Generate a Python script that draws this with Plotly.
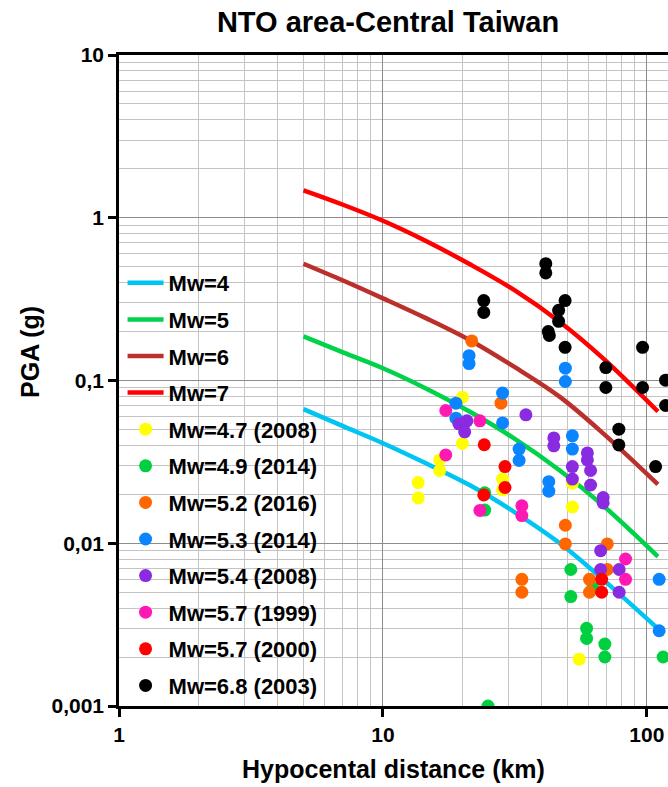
import plotly.graph_objects as go

# attenuation curves (at the same distances)
dist_curve = [5, 7.06, 10, 14.55, 21.36, 31.6, 46.8, 68.1, 110.1]
pga_mw4 = [0.0667, 0.0524, 0.0412, 0.031, 0.0227, 0.0155, 0.0100, 0.0060, 0.00299]
pga_mw5 = [0.1865, 0.1487, 0.1189, 0.0893, 0.0642, 0.0438, 0.0280, 0.0171, 0.00829]
pga_mw6 = [0.522, 0.4115, 0.3198, 0.2416, 0.1769, 0.1207, 0.0793, 0.0475, 0.023]
pga_mw7 = [1.474, 1.202, 0.958, 0.720, 0.5176, 0.3577, 0.229, 0.1373, 0.0645]

# observed events
dist_47 = [20.0, 20.0, 16.4, 16.4, 13.6, 13.6, 28.4, 28.4, 52.2, 52.2, 55.4]
pga_47 = [0.079, 0.041, 0.0325, 0.028, 0.0236, 0.019, 0.0248, 0.0213, 0.0234, 0.0167, 0.00194]
dist_49 = [51.5, 51.5, 59.1, 59.1, 69.3, 69.3, 115.2, 25.0, 62.4, 24.3, 24.3]
pga_49 = [0.0069, 0.0047, 0.0030, 0.0026, 0.0024, 0.0020, 0.0020, 0.0010, 0.0053, 0.0204, 0.016]
dist_52 = [21.7, 28.0, 49.1, 49.1, 70.8, 33.6, 33.6, 60.6, 60.6, 70.8]
pga_52 = [0.175, 0.0726, 0.0129, 0.0099, 0.0099, 0.0060, 0.0050, 0.0060, 0.0050, 0.0069]
dist_53 = [21.2, 21.2, 18.9, 18.9, 28.4, 28.4, 32.8, 32.8, 49.1, 49.1, 52.2, 52.2, 42.5, 42.5, 111.3, 111.3]
pga_53 = [0.142, 0.127, 0.0726, 0.0587, 0.0837, 0.0549, 0.0379, 0.0323, 0.119, 0.0986, 0.0457, 0.0379,
          0.0239, 0.0209, 0.0060, 0.0029]
dist_54 = [19.4, 20.8, 20.4, 34.8, 44.4, 44.4, 52.2, 52.2, 59.5, 59.5, 61.2, 61.2, 68.3, 68.3, 66.8, 66.8,
           78.5, 78.5]
pga_54 = [0.0542, 0.0565, 0.0484, 0.0615, 0.0444, 0.0397, 0.0296, 0.0248, 0.0359, 0.0325, 0.028, 0.0228,
          0.0191, 0.0177, 0.009, 0.0069, 0.0069, 0.005]
dist_57a = [17.3, 17.3, 23.3, 23.3, 33.6, 33.6, 83.0, 83.0]
pga_57a = [0.0654, 0.0349, 0.0565, 0.0159, 0.017, 0.0148, 0.008, 0.006]
dist_57b = [24.2, 29.0, 29.0, 24.1, 67.4, 67.4]
pga_57b = [0.0403, 0.0296, 0.022, 0.0198, 0.006, 0.005]
dist_68 = [41.4, 41.4, 24.1, 24.1, 49.0, 46.3, 46.3, 42.3, 42.7, 49.0, 96.3, 69.9, 69.9, 96.3, 117.7, 117.7,
           78.3, 78.3, 107.9]
pga_68 = [0.522, 0.458, 0.31, 0.262, 0.31, 0.27, 0.231, 0.2, 0.189, 0.16, 0.16, 0.12, 0.0906, 0.0906,
          0.1005, 0.0702, 0.0502, 0.0402, 0.0296]

y_ticks = [0.001, 0.01, 0.1, 1, 10]
y_labels = ["0,001", "0,01", "0,1", "1", "10"]
x_ticks = [1, 10, 100]
x_labels = ["1", "10", "100"]

FONT = "Liberation Sans, Arial, sans-serif"

curves = [
    ("Mw=4", pga_mw4, "#00c4f2"),
    ("Mw=5", pga_mw5, "#00d24a"),
    ("Mw=6", pga_mw6, "#bc302c"),
    ("Mw=7", pga_mw7, "#ff0000"),
]
events = [
    ("Mw=4.7 (2008)", dist_47, pga_47, "#ffff00"),
    ("Mw=4.9 (2014)", dist_49, pga_49, "#00d040"),
    ("Mw=5.2 (2016)", dist_52, pga_52, "#ff6600"),
    ("Mw=5.3 (2014)", dist_53, pga_53, "#0a84ff"),
    ("Mw=5.4 (2008)", dist_54, pga_54, "#8a2be2"),
    ("Mw=5.7 (1999)", dist_57a, pga_57a, "#ff19b4"),
    ("Mw=5.7 (2000)", dist_57b, pga_57b, "#ff0000"),
    ("Mw=6.8 (2003)", dist_68, pga_68, "#000000"),
]

fig = go.Figure()
for name, ys, col in curves:
    fig.add_trace(go.Scatter(x=dist_curve, y=ys, name=name, mode="lines", legendgroup=name,
                             line=dict(color=col, width=4.5, shape="spline", smoothing=1.0)))
for name, xs, ys, col in events:
    fig.add_trace(go.Scatter(x=xs, y=ys, name=name, mode="markers", legendgroup=name,
                             marker=dict(color=col, size=13, line=dict(width=0))))

fig.update_layout(
    width=668, height=787,
    margin=dict(l=119, r=0, t=55, b=81),
    paper_bgcolor="white", plot_bgcolor="white",
    font=dict(family=FONT, color="black"),
    title=dict(text="NTO area-Central Taiwan", xref="paper", x=0.49, xanchor="center",
               yref="container", y=0.972, yanchor="middle",
               font=dict(size=29, weight="bold")),
    legend=dict(x=0.0065, y=0.682, xanchor="left", yanchor="top", bgcolor="rgba(0,0,0,0)",
                font=dict(size=22, weight="bold"), tracegroupgap=5, itemwidth=36),
    showlegend=True,
    annotations=[dict(text="PGA (g)", textangle=-90, xref="paper", yref="paper",
                      x=-0.162, y=0.544, xanchor="center", yanchor="middle", showarrow=False,
                      font=dict(size=25, weight="bold"))],
)

fig.update_xaxes(
    type="log", range=[0, 2.08],
    tickmode="array", tickvals=x_ticks, ticktext=x_labels,
    tickfont=dict(size=21, weight="bold"), ticks="outside", ticklen=8, tickwidth=2.5, tickcolor="black",
    showline=True, linecolor="black", linewidth=2.5, mirror=True,
    showgrid=True, gridcolor="#8c8c8c", gridwidth=1.3,
    minor=dict(dtick="D1", showgrid=True, gridcolor="#c4c4c4", gridwidth=1.3, ticks=""),
    title=dict(text="Hypocental distance (km)", font=dict(size=25, weight="bold"), standoff=16),
    zeroline=False,
)
fig.update_yaxes(
    type="log", range=[-3, 1],
    tickmode="array", tickvals=y_ticks, ticktext=y_labels,
    tickfont=dict(size=21, weight="bold"), ticks="outside", ticklen=8, tickwidth=2.5, tickcolor="black",
    showline=True, linecolor="black", linewidth=2.5,
    showgrid=True, gridcolor="#8c8c8c", gridwidth=1.3,
    minor=dict(dtick="D1", showgrid=True, gridcolor="#c4c4c4", gridwidth=1.3, ticks=""),
    zeroline=False,
)

# drop the default page margin so the figure fills the window exactly
fig.write_html("out.html", config={"displayModeBar": False},
               post_script="document.body.style.margin='0';document.body.style.overflow='hidden';")
